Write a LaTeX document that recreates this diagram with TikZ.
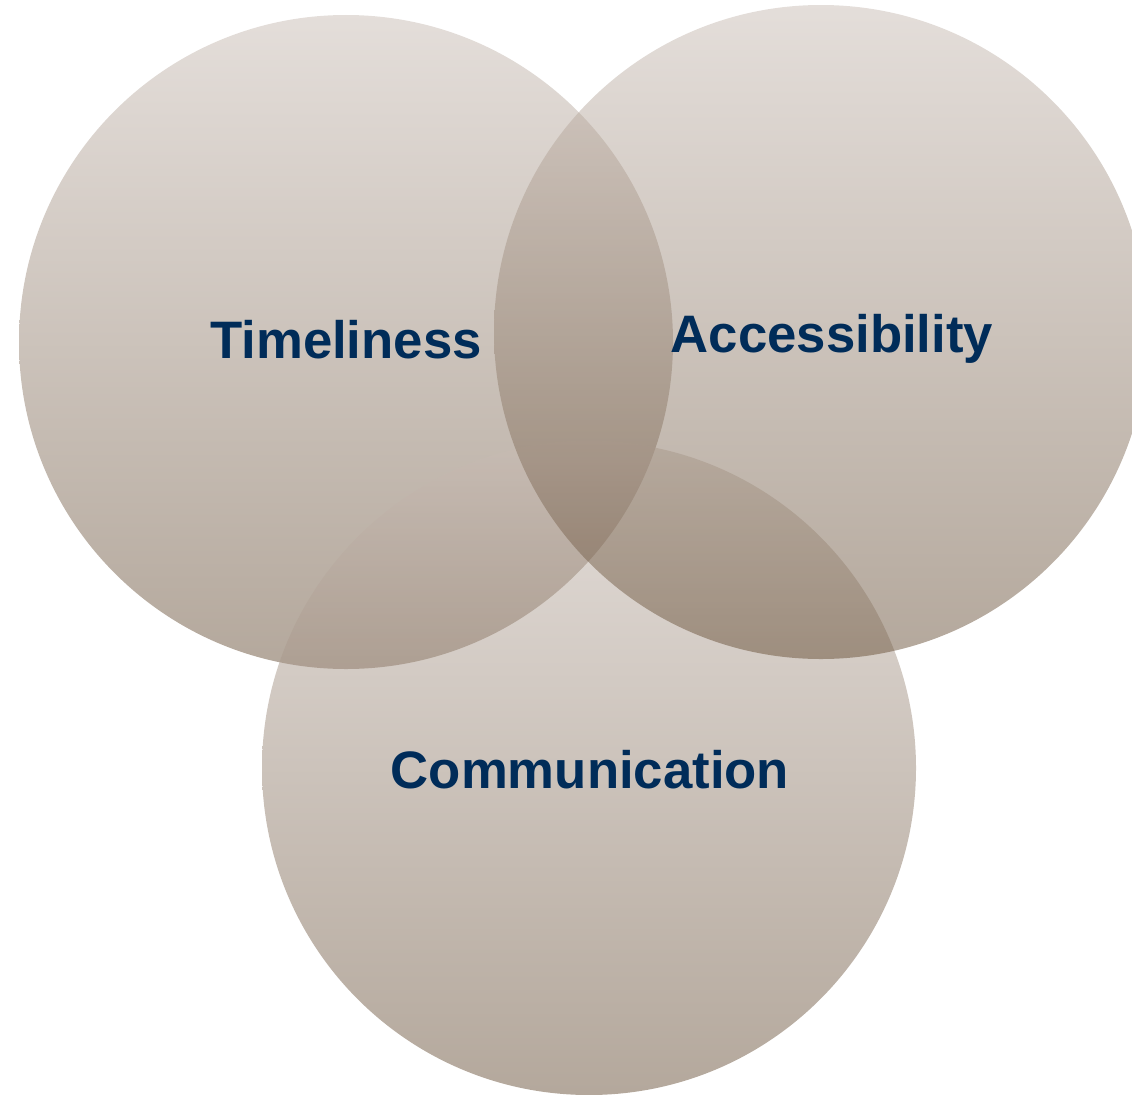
\documentclass[tikz,border=0pt]{standalone}
\usepackage{fontspec}
\newfontfamily\vennfont{Liberation Sans}
\usepackage{xcolor}
\definecolor{venntop}{RGB}{201,189,181}
\definecolor{vennbot}{RGB}{105,81,57}
\definecolor{navy}{RGB}{0,44,89}

\begin{document}
\begin{tikzpicture}[
    venn/.style={top color=venntop, bottom color=vennbot, fill opacity=0.5},
    label/.style={anchor=base, text=navy, font=\vennfont\bfseries\fontsize{15}{18}\selectfont}
]

\useasboundingbox (0,0) rectangle (11.32,-10.94);
\clip (0,0) rectangle (11.32,-10.94);

%circles
\coordinate (ctime) at (3.46,-3.42);
\coordinate (cacc) at (8.21,-3.32);
\coordinate (ccom) at (5.89,-7.68);

\shade[venn] (ctime) circle (3.27);
\shade[venn] (ccom) circle (3.27);
\shade[venn] (cacc) circle (3.27);

%labels
\node [label] (time) at (3.46,-3.58) {Timeliness};
\node [label] (acc) at (8.32,-3.52) {Accessibility};
\node [label] (com) at (5.90,-7.88) {Communication};

\end{tikzpicture}
\end{document}
